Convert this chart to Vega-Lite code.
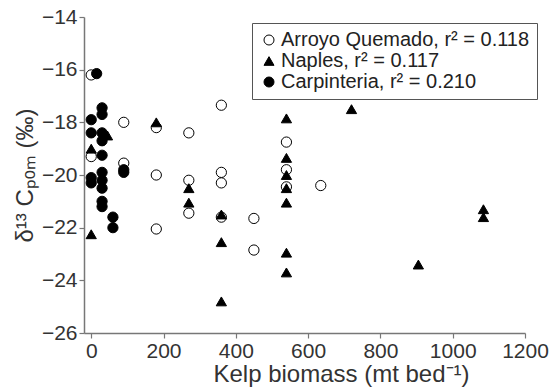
{
  "$schema": "https://vega.github.io/schema/vega-lite/v6.json",
  "width": 441,
  "height": 316,
  "autosize": {"type": "none"},
  "padding": {"left": 84, "top": 17, "right": 28, "bottom": 57},
  "background": "white",
  "config": {
    "view": {"stroke": null},
    "font": "Liberation Sans",
    "legend": {
      "title": null,
      "orient": "none", "legendX": 168, "legendY": 6,
      "strokeColor": "#555555", "fillColor": "white", "padding": 7,
      "labelFontSize": 20, "labelFont": "Liberation Sans", "labelColor": "#222222", "labelLimit": 400,
      "symbolSize": 100, "symbolStrokeWidth": 1,
      "rowPadding": 1, "labelOffset": 2
    }
  },
  "data": {
    "values": [
      {"site": "Arroyo Quemado, r² = 0.118", "kelp": 0, "d13c": -16.2},
      {"site": "Arroyo Quemado, r² = 0.118", "kelp": 0, "d13c": -19.3},
      {"site": "Arroyo Quemado, r² = 0.118", "kelp": 90, "d13c": -18.0},
      {"site": "Arroyo Quemado, r² = 0.118", "kelp": 90, "d13c": -19.55},
      {"site": "Arroyo Quemado, r² = 0.118", "kelp": 180, "d13c": -18.2},
      {"site": "Arroyo Quemado, r² = 0.118", "kelp": 180, "d13c": -20.0},
      {"site": "Arroyo Quemado, r² = 0.118", "kelp": 180, "d13c": -22.05},
      {"site": "Arroyo Quemado, r² = 0.118", "kelp": 270, "d13c": -18.4},
      {"site": "Arroyo Quemado, r² = 0.118", "kelp": 270, "d13c": -20.2},
      {"site": "Arroyo Quemado, r² = 0.118", "kelp": 270, "d13c": -21.45},
      {"site": "Arroyo Quemado, r² = 0.118", "kelp": 360, "d13c": -17.35},
      {"site": "Arroyo Quemado, r² = 0.118", "kelp": 360, "d13c": -19.9},
      {"site": "Arroyo Quemado, r² = 0.118", "kelp": 360, "d13c": -20.3},
      {"site": "Arroyo Quemado, r² = 0.118", "kelp": 360, "d13c": -21.6},
      {"site": "Arroyo Quemado, r² = 0.118", "kelp": 450, "d13c": -21.65},
      {"site": "Arroyo Quemado, r² = 0.118", "kelp": 450, "d13c": -22.85},
      {"site": "Arroyo Quemado, r² = 0.118", "kelp": 540, "d13c": -18.75},
      {"site": "Arroyo Quemado, r² = 0.118", "kelp": 540, "d13c": -19.8},
      {"site": "Arroyo Quemado, r² = 0.118", "kelp": 540, "d13c": -20.45},
      {"site": "Arroyo Quemado, r² = 0.118", "kelp": 635, "d13c": -20.4},
      {"site": "Naples, r² = 0.117", "kelp": 0, "d13c": -19.0},
      {"site": "Naples, r² = 0.117", "kelp": 0, "d13c": -22.25},
      {"site": "Naples, r² = 0.117", "kelp": 45, "d13c": -18.5},
      {"site": "Naples, r² = 0.117", "kelp": 180, "d13c": -18.0},
      {"site": "Naples, r² = 0.117", "kelp": 270, "d13c": -20.5},
      {"site": "Naples, r² = 0.117", "kelp": 270, "d13c": -21.05},
      {"site": "Naples, r² = 0.117", "kelp": 360, "d13c": -21.5},
      {"site": "Naples, r² = 0.117", "kelp": 360, "d13c": -22.55},
      {"site": "Naples, r² = 0.117", "kelp": 360, "d13c": -24.8},
      {"site": "Naples, r² = 0.117", "kelp": 540, "d13c": -17.85},
      {"site": "Naples, r² = 0.117", "kelp": 540, "d13c": -19.35},
      {"site": "Naples, r² = 0.117", "kelp": 540, "d13c": -20.0},
      {"site": "Naples, r² = 0.117", "kelp": 540, "d13c": -20.5},
      {"site": "Naples, r² = 0.117", "kelp": 540, "d13c": -21.05},
      {"site": "Naples, r² = 0.117", "kelp": 540, "d13c": -22.95},
      {"site": "Naples, r² = 0.117", "kelp": 540, "d13c": -23.7},
      {"site": "Naples, r² = 0.117", "kelp": 720, "d13c": -17.5},
      {"site": "Naples, r² = 0.117", "kelp": 905, "d13c": -23.4},
      {"site": "Naples, r² = 0.117", "kelp": 1085, "d13c": -21.3},
      {"site": "Naples, r² = 0.117", "kelp": 1085, "d13c": -21.6},
      {"site": "Carpinteria, r² = 0.210", "kelp": 15, "d13c": -16.15},
      {"site": "Carpinteria, r² = 0.210", "kelp": 30, "d13c": -17.45},
      {"site": "Carpinteria, r² = 0.210", "kelp": 30, "d13c": -17.7},
      {"site": "Carpinteria, r² = 0.210", "kelp": 0, "d13c": -17.9},
      {"site": "Carpinteria, r² = 0.210", "kelp": 0, "d13c": -18.4},
      {"site": "Carpinteria, r² = 0.210", "kelp": 30, "d13c": -18.4},
      {"site": "Carpinteria, r² = 0.210", "kelp": 30, "d13c": -18.7},
      {"site": "Carpinteria, r² = 0.210", "kelp": 30, "d13c": -19.25},
      {"site": "Carpinteria, r² = 0.210", "kelp": 0, "d13c": -20.1},
      {"site": "Carpinteria, r² = 0.210", "kelp": 0, "d13c": -20.3},
      {"site": "Carpinteria, r² = 0.210", "kelp": 30, "d13c": -19.9},
      {"site": "Carpinteria, r² = 0.210", "kelp": 30, "d13c": -20.2},
      {"site": "Carpinteria, r² = 0.210", "kelp": 30, "d13c": -20.5},
      {"site": "Carpinteria, r² = 0.210", "kelp": 30, "d13c": -21.0},
      {"site": "Carpinteria, r² = 0.210", "kelp": 30, "d13c": -21.2},
      {"site": "Carpinteria, r² = 0.210", "kelp": 60, "d13c": -21.6},
      {"site": "Carpinteria, r² = 0.210", "kelp": 60, "d13c": -22.0},
      {"site": "Carpinteria, r² = 0.210", "kelp": 90, "d13c": -19.8},
      {"site": "Carpinteria, r² = 0.210", "kelp": 90, "d13c": -19.9}
    ]
  },
  "mark": {"type": "point", "filled": true, "strokeWidth": 1, "size": 105, "opacity": 1},
  "encoding": {
    "x": {
      "field": "kelp", "type": "quantitative",
      "scale": {"domain": [-20, 1200], "nice": false, "zero": false},
      "axis": {
        "title": "Kelp biomass (mt bed⁻¹)",
        "values": [0, 200, 400, 600, 800, 1000, 1200],
        "format": "d",
        "grid": false,
        "labelFlush": false,
        "domainColor": "#777777", "domainWidth": 1.5,
        "tickColor": "#777777", "tickWidth": 1.2, "tickSize": 5,
        "labelFontSize": 21, "labelColor": "#333333", "labelPadding": 2,
        "labelFont": "Liberation Sans",
        "titleFont": "Liberation Sans", "titleFontSize": 24, "titleFontWeight": "normal",
        "titleColor": "#333333", "titlePadding": 1, "titleX": 257, "titleAlign": "center"
      }
    },
    "y": {
      "field": "d13c", "type": "quantitative",
      "scale": {"domain": [-26, -14], "nice": false, "zero": false},
      "axis": {
        "title": "δ¹³ Cₚₒₘ (‰)",
        "values": [-26, -24, -22, -20, -18, -16, -14],
        "format": "d",
        "grid": false,
        "domainColor": "#777777", "domainWidth": 1.5,
        "tickColor": "#777777", "tickWidth": 1.2, "tickSize": 5,
        "labelFontSize": 21, "labelColor": "#333333", "labelPadding": 2,
        "labelFont": "Liberation Sans",
        "titleFont": "Liberation Sans", "titleFontSize": 24, "titleFontWeight": "normal",
        "titleColor": "#333333", "titlePadding": 4
      }
    },
    "stroke": {
      "field": "site", "type": "nominal",
      "scale": {
        "domain": ["Arroyo Quemado, r² = 0.118", "Naples, r² = 0.117", "Carpinteria, r² = 0.210"],
        "range": ["black", "black", "black"]
      },
      "legend": {}
    },
    "shape": {
      "field": "site", "type": "nominal",
      "scale": {
        "domain": ["Arroyo Quemado, r² = 0.118", "Naples, r² = 0.117", "Carpinteria, r² = 0.210"],
        "range": ["circle", "triangle-up", "circle"]
      },
      "legend": {}
    },
    "fill": {
      "field": "site", "type": "nominal",
      "scale": {
        "domain": ["Arroyo Quemado, r² = 0.118", "Naples, r² = 0.117", "Carpinteria, r² = 0.210"],
        "range": ["white", "black", "black"]
      },
      "legend": {}
    }
  }
}
